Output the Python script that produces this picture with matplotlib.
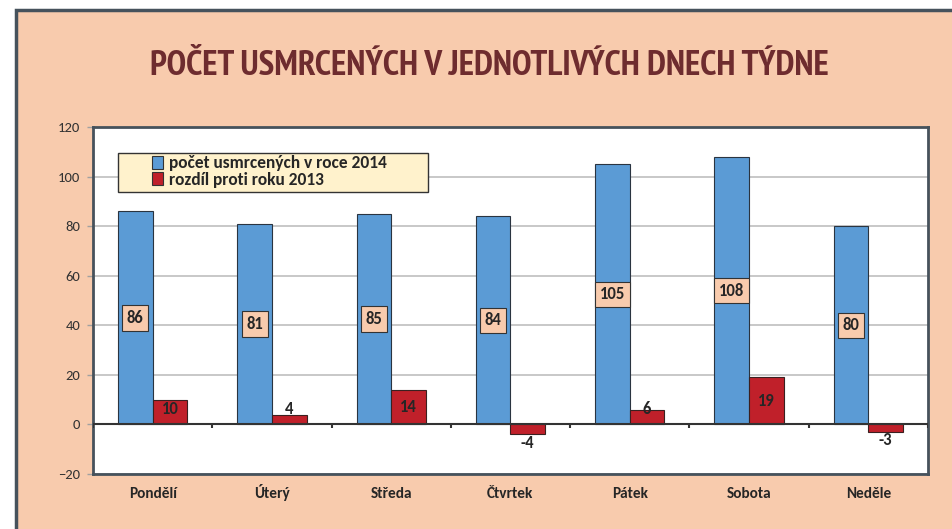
import numpy as np
import matplotlib.pyplot as plt
from matplotlib.patches import Rectangle

# data
days = ['Pondělí', 'Úterý', 'Středa', 'Čtvrtek', 'Pátek', 'Sobota', 'Neděle']
killed_2014 = [86, 81, 85, 84, 105, 108, 80]
diff_2013 = [10, 4, 14, -4, 6, 19, -3]
yticks = [-20, 0, 20, 40, 60, 80, 100, 120]

peach = '#F8CBAD'
blue = '#5B9BD5'
red = '#C0202A'
dark = '#262626'
frame = '#46525C'

plt.rcParams['font.family'] = ['Carlito', 'DejaVu Sans']

fig = plt.figure(figsize=(9.53, 5.29), dpi=100, facecolor='white')

# outer peach panel with border (runs off the right and bottom edge)
fig.patches.append(Rectangle((16/953, -0.05), 1.1, 1.05 - 10/529,
                             transform=fig.transFigure, facecolor=peach,
                             edgecolor=frame, linewidth=2.5, zorder=-1))

fig.text(0.514, 0.875, 'POČET USMRCENÝCH V JEDNOTLIVÝCH DNECH TÝDNE',
         ha='center', va='center', fontsize=25.5, fontweight='bold',
         color='#6E2C2F', family=['PT Sans Narrow', 'DejaVu Sans'])

ax = fig.add_axes([93/953, 1 - 474/529, (928 - 93)/953, (474 - 127)/529])
ax.set_zorder(2)
ax.set_facecolor('white')

x = np.arange(len(days))
w = 0.29
b1 = ax.bar(x - w/2, killed_2014, w, color=blue, edgecolor='#2A3440',
            linewidth=0.8, label='počet usmrcených v roce 2014', zorder=3)
b2 = ax.bar(x + w/2, diff_2013, w, color=red, edgecolor='#3A2020',
            linewidth=0.8, label='rozdíl proti roku 2013', zorder=3)

# labels for 2014 values, boxed in the middle of the bars
for xi, v in zip(x - w/2, killed_2014):
    ax.text(xi, v/2, str(v), ha='center', va='center', fontsize=12,
            fontweight='bold', color=dark, zorder=5,
            bbox=dict(boxstyle='square,pad=0.28', facecolor=peach,
                      edgecolor='#333333', linewidth=0.8))

# labels for differences
for xi, v in zip(x + w/2, diff_2013):
    if v >= 0:
        y = max(v/2, 6.4)
    else:
        y = v - 3.4
    ax.text(xi, y, str(v), ha='center', va='center', fontsize=12,
            fontweight='bold', color=dark, zorder=5)

ax.set_xlim(-0.5, len(days) - 0.5)
ax.set_ylim(yticks[0], yticks[-1])
ax.set_yticks(yticks)
ax.yaxis.grid(True, color='#BFBFBF', linewidth=1.2, zorder=0)
ax.set_axisbelow(True)
ax.tick_params(axis='y', length=4, width=1, color='#A0A0A0',
               labelsize=10.5, labelcolor='#333333', pad=5)
ax.set_xticks(x)
ax.set_xticklabels(days, fontsize=11, fontweight='bold', color=dark)
ax.tick_params(axis='x', length=0, pad=17.5)
for lbl in ax.get_xticklabels():
    lbl.set_va('baseline')

# zero line with category separators
ax.axhline(0, color='#333333', linewidth=1.5, zorder=4)
ax.vlines(np.arange(len(days) + 1) - 0.5, -1.4, 0, color='#333333',
          linewidth=1.5, zorder=4)

for s in ax.spines.values():
    s.set_color(frame)
    s.set_linewidth(2)

# legend box
ax.add_patch(Rectangle((0.03, 0.813), 0.371, 0.112, transform=ax.transAxes,
                       facecolor='#FFF2CC', edgecolor='#333333',
                       linewidth=1, zorder=6))
leg = ax.legend(loc='upper left', bbox_to_anchor=(0.062, 0.938),
                frameon=False, handlelength=0.65,
                handleheight=0.8, handletextpad=0.35, labelspacing=0.02,
                borderaxespad=0, prop={'weight': 'bold', 'size': 12.5})
leg.set_zorder(7)
for t in leg.get_texts():
    t.set_color(dark)
for h in leg.legend_handles:
    h.set_edgecolor('#333333')

fig.savefig('out.png', dpi=100, facecolor='white')
